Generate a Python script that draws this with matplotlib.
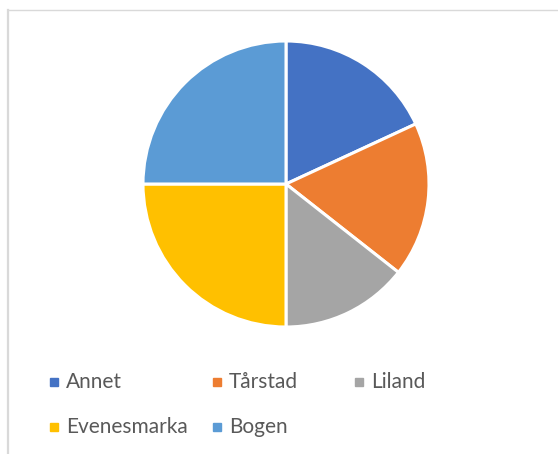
import matplotlib
matplotlib.use("Agg")
import matplotlib.pyplot as plt
from matplotlib.patches import Rectangle
from matplotlib.lines import Line2D

labels = ["Annet", "Tårstad", "Liland", "Evenesmarka", "Bogen"]
values = [18.1, 17.5, 14.4, 25.0, 25.0]
colors = ["#4472C4", "#ED7D31", "#A5A5A5", "#FFC000", "#5B9BD5"]

W, H = 558, 454
fig = plt.figure(figsize=(W / 100, H / 100), dpi=100)
fig.patch.set_facecolor("white")

# chart area border (top and left only visible)
fig.add_artist(Line2D([8 / W, 1], [1 - 10 / H, 1 - 10 / H], color="#D9D9D9", lw=1.0))
fig.add_artist(Line2D([8 / W, 8 / W], [0, 1 - 10 / H], color="#D9D9D9", lw=1.6))

cx, cy, r = 286, 184, 143
ax = fig.add_axes([(cx - r) / W, (H - cy - r) / H, 2 * r / W, 2 * r / H])
ax.pie(values, colors=colors, startangle=90, counterclock=False, radius=1,
       wedgeprops=dict(edgecolor="white", linewidth=2.2))
ax.set_xlim(-1, 1); ax.set_ylim(-1, 1)
ax.set_aspect("equal")
ax.axis("off")

# legend, manual layout like Excel
pos = [(50, 382), (213, 382), (355, 382), (50, 427), (213, 427)]
for (x, y), lab, col in zip(pos, labels, colors):
    fig.add_artist(Rectangle((x / W, (H - y - 4) / H), 8 / W, 8 / H, color=col,
                             transform=fig.transFigure))
    fig.text((x + 16) / W, (H - y) / H, lab, fontsize=15, color="#595959",
             family="Lato", va="center", ha="left")

fig.savefig("out.png", dpi=100)
